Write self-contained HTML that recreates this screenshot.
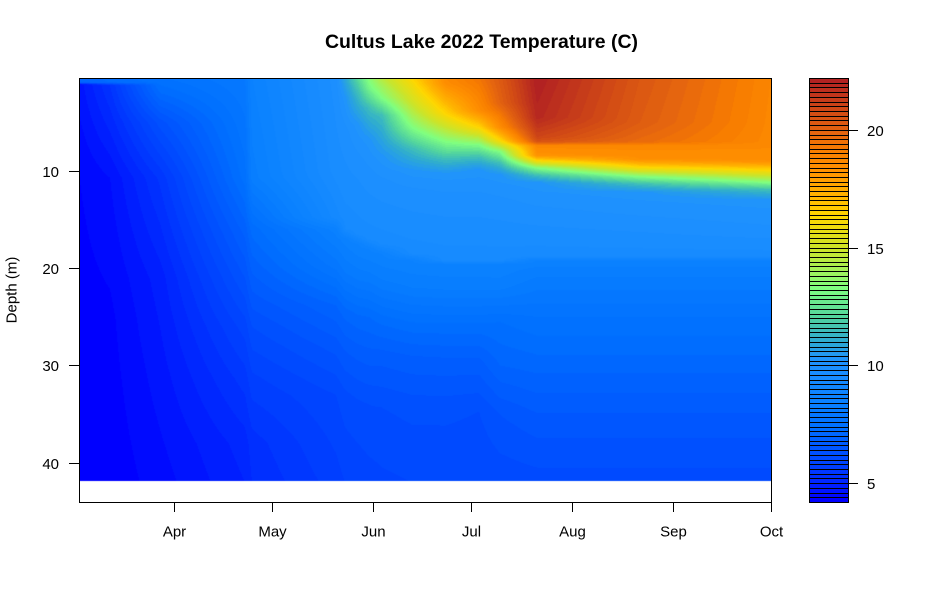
<!DOCTYPE html>
<html><head><meta charset="utf-8">
<style>
html,body{margin:0;padding:0;background:#fff;}
#wrap{position:relative;width:927px;height:600px;overflow:hidden;background:#fff;}
#fld{position:absolute;left:79px;top:78px;}
svg{position:absolute;left:0;top:0;}
text{font-family:"Liberation Sans",Arial,sans-serif;fill:#000;}
</style></head>
<body><div id="wrap">
<canvas id="fld" width="692" height="424"></canvas>
<svg width="927" height="600" viewBox="0 0 927 600" xmlns="http://www.w3.org/2000/svg">
<text x="481.5" y="48" text-anchor="middle" font-size="19" font-weight="bold" textLength="313" lengthAdjust="spacingAndGlyphs">Cultus Lake 2022 Temperature (C)</text>
<rect x="79.5" y="78.5" width="692" height="424" fill="none" stroke="#000" stroke-width="1" shape-rendering="crispEdges"/>
<g stroke="#000" stroke-width="1" shape-rendering="crispEdges">
<line x1="69" y1="171.5" x2="79" y2="171.5"/>
<line x1="69" y1="268.5" x2="79" y2="268.5"/>
<line x1="69" y1="365.5" x2="79" y2="365.5"/>
<line x1="69" y1="463.5" x2="79" y2="463.5"/>
<line x1="174.5" y1="502" x2="174.5" y2="512"/>
<line x1="272.5" y1="502" x2="272.5" y2="512"/>
<line x1="373.5" y1="502" x2="373.5" y2="512"/>
<line x1="471.5" y1="502" x2="471.5" y2="512"/>
<line x1="572.5" y1="502" x2="572.5" y2="512"/>
<line x1="673.5" y1="502" x2="673.5" y2="512"/>
<line x1="771.5" y1="502" x2="771.5" y2="512"/>
<line x1="849" y1="130.5" x2="858" y2="130.5"/>
<line x1="849" y1="248.5" x2="858" y2="248.5"/>
<line x1="849" y1="365.5" x2="858" y2="365.5"/>
<line x1="849" y1="483.5" x2="858" y2="483.5"/>
</g>
<g font-size="15" text-anchor="end">
<text x="59" y="177">10</text>
<text x="59" y="274">20</text>
<text x="59" y="371">30</text>
<text x="59" y="469">40</text>
</g>
<g font-size="15" text-anchor="middle">
<text x="174.5" y="536.5">Apr</text>
<text x="272.5" y="536.5">May</text>
<text x="373.5" y="536.5">Jun</text>
<text x="471.5" y="536.5">Jul</text>
<text x="572.5" y="536.5">Aug</text>
<text x="673.5" y="536.5">Sep</text>
<text x="771.5" y="536.5">Oct</text>
</g>
<g font-size="15" text-anchor="start">
<text x="867" y="136">20</text>
<text x="867" y="254">15</text>
<text x="867" y="371">10</text>
<text x="867" y="489">5</text>
</g>
<text transform="translate(16.5,290) rotate(-90)" text-anchor="middle" font-size="15">Depth (m)</text>
<g id="cbar" shape-rendering="crispEdges"></g>
<rect x="809.5" y="78.5" width="39" height="424" fill="none" stroke="#000" stroke-width="1" shape-rendering="crispEdges"/>
</svg>
</div>
<script>
(function(){
var stops=[[4.2,0,0,255],[4.9,0,35,255],[5.55,0,60,255],[6.4,0,85,255],[7.26,0,110,255],[8.5,10,130,255],[10.0,30,144,255],[10.3,32,148,250],[11.0,45,170,210],[12.0,80,210,160],[13.3,128,255,128],[15.0,205,228,40],[16.4,255,215,0],[17.3,255,178,0],[18.5,255,142,0],[19.2,248,125,0],[20.0,228,100,15],[21.0,208,72,22],[22.2,178,34,34]];
function pal(v){
  if(v<=stops[0][0])return [stops[0][1],stops[0][2],stops[0][3]];
  for(var i=1;i<stops.length;i++){
    if(v<=stops[i][0]){
      var a=stops[i-1],b=stops[i],t=(v-a[0])/(b[0]-a[0]);
      return [Math.round(a[1]+(b[1]-a[1])*t),Math.round(a[2]+(b[2]-a[2])*t),Math.round(a[3]+(b[3]-a[3])*t)];
    }
  }
  var l=stops[stops.length-1];return [l[1],l[2],l[3]];
}
var NB=90,bands=[];
for(var i=0;i<NB;i++){bands.push(pal(4.2+18*i/(NB-1)));}
var g=document.getElementById('cbar'),ns='http://www.w3.org/2000/svg';
var bh=424/NB;
for(var i=0;i<NB;i++){
  var r=document.createElementNS(ns,'rect');
  var y0=Math.round(502-(i+1)*bh);var y1=Math.round(502-i*bh);
  r.setAttribute('x','809.5');r.setAttribute('y',(y0+0.5));
  r.setAttribute('width','39');r.setAttribute('height',(y1-y0));
  var c=bands[i];
  r.setAttribute('fill','rgb('+c[0]+','+c[1]+','+c[2]+')');
  r.setAttribute('stroke','#000');r.setAttribute('stroke-width','1');
  g.appendChild(r);
}
var cols=[
[79,[[0.4,7.0],[0.9,7.0],[1.1,4.7],[10,4.4],[25,4.3],[42,4.2]]],
[110,[[0.4,7.3],[0.9,7.2],[1.2,5.4],[10.7,4.6],[25,4.35],[42,4.25]]],
[160,[[0.4,7.6],[2,7.2],[5,6.3],[10.7,5.45],[21,4.9],[31,4.7],[42,4.5]]],
[245,[[0.4,8.0],[10.7,7.5],[15.9,6.9],[21,6.4],[26,5.9],[31.3,5.5],[38,5.1],[42,5.0]]],
[252,[[0.4,8.6],[10.7,8.3],[15.9,7.3],[21,6.75],[26,6.2],[31.3,5.75],[38,5.3],[42,5.2]]],
[336,[[0.4,9.9],[10,9.7],[14.8,9.3],[16,8.5],[19.7,7.9],[23.8,7.0],[27.9,6.5],[33,6.0],[42,5.7]]],
[345,[[0.4,10.9],[2.5,10.3],[6,9.9],[12,9.7],[16,9.4],[17,8.5],[20.5,8.0],[24.5,7.1],[28.5,6.6],[33.5,6.1],[42,5.8]]],
[358,[[0.4,12.3],[2,11.5],[5.3,10.3],[9,9.9],[16.5,9.5],[17.5,8.6],[21,8.05],[25,7.15],[29,6.65],[34,6.15],[42,5.85]]],
[369,[[0.4,13.5],[1.5,13.0],[3.5,11.5],[6.8,10.3],[10,9.95],[17,9.5],[18,8.6],[21,8.1],[25,7.2],[29,6.7],[34,6.2],[42,5.9]]],
[382,[[0.4,14.6],[2.5,13.3],[4.3,11.5],[8.6,10.3],[11,9.95],[17.5,9.5],[18.5,8.6],[21.5,8.15],[25.5,7.25],[29,6.7],[34.3,6.2],[42,5.95]]],
[412,[[0.4,16.4],[3,15.0],[5.5,13.3],[7.7,11.5],[10,10.3],[12,9.95],[18.5,9.5],[19.2,8.6],[22,8.2],[26,7.3],[29.3,6.75],[34.6,6.25],[42,6.0]]],
[446,[[0.4,18.6],[1.0,18.5],[4.1,16.4],[7.0,13.3],[8.8,11.5],[10.3,10.3],[12.5,9.95],[19.2,9.5],[19.6,8.6],[22.2,8.2],[26.1,7.3],[29.5,6.75],[34.7,6.25],[42,6.0]]],
[479,[[0.4,19.4],[3.8,18.5],[5.5,16.4],[7.3,13.3],[8.6,11.5],[9.9,10.3],[12.5,9.95],[19.2,9.5],[19.6,8.6],[22.2,8.2],[26.1,7.3],[29.5,6.75],[34.7,6.2],[42,6.0]]],
[500,[[0.4,20.3],[3,20.0],[5.5,18.5],[6.8,16.4],[8.0,13.3],[9.2,11.5],[10.4,10.3],[13,9.95],[19.2,9.5],[19.6,8.6],[22,8.25],[25.5,7.4],[30,7.0],[35,6.4],[42,6.05]]],
[537,[[0.4,22.2],[4.5,21.9],[6.5,21.0],[7.0,20.5],[7.4,18.7],[8.4,18.3],[8.9,16.4],[9.7,13.3],[10.4,11.6],[11.2,10.3],[14,9.95],[18.8,9.5],[19.2,8.6],[20.2,8.3],[25,7.6],[30.8,7.0],[35.9,6.5],[42,6.1]]],
[640,[[0.4,20.4],[5,20.2],[7.0,19.7],[7.4,18.7],[8.8,18.4],[9.6,16.4],[10.6,13.3],[11.3,11.6],[12.2,10.3],[15,9.95],[18.8,9.5],[19.2,8.6],[20.2,8.3],[25,7.6],[30.8,7.0],[35.9,6.5],[42,6.1]]],
[771,[[0.4,18.8],[7,18.7],[9.0,18.4],[9.9,16.4],[11.2,13.3],[11.9,11.6],[13.0,10.3],[16,9.95],[18.8,9.5],[19.2,8.6],[20.2,8.3],[25,7.6],[30.8,7.0],[35.9,6.5],[42,6.1]]]
];
function prof(p,d){
  if(d<=p[0][0])return p[0][1];
  for(var i=1;i<p.length;i++){
    if(d<=p[i][0]){var t=(d-p[i-1][0])/(p[i][0]-p[i-1][0]);return p[i-1][1]+(p[i][1]-p[i-1][1])*t;}
  }
  return p[p.length-1][1];
}
var cv=document.getElementById('fld'),ctx=cv.getContext('2d');
var W=692,H=424,img=ctx.createImageData(W,H),dt=img.data;
for(var py=0;py<H;py++){
  var ya=78+py+0.5,d=(ya-73.67)*0.10274;
  var white=(d>41.9);
  for(var px=0;px<W;px++){
    var o=(py*W+px)*4;
    if(white){dt[o]=255;dt[o+1]=255;dt[o+2]=255;dt[o+3]=255;continue;}
    var xa=79+px+0.5,k=1;
    while(k<cols.length-1&&xa>cols[k][0])k++;
    var c0=cols[k-1],c1=cols[k];
    var t=(xa-c0[0])/(c1[0]-c0[0]);if(t<0)t=0;if(t>1)t=1;
    var v=prof(c0[1],d)*(1-t)+prof(c1[1],d)*t;
    var b=Math.floor((v-4.2)/0.2);if(b<0)b=0;if(b>NB-1)b=NB-1;
    var c=bands[b];
    dt[o]=c[0];dt[o+1]=c[1];dt[o+2]=c[2];dt[o+3]=255;
  }
}
ctx.putImageData(img,0,0);
})();
</script>
</body></html>
